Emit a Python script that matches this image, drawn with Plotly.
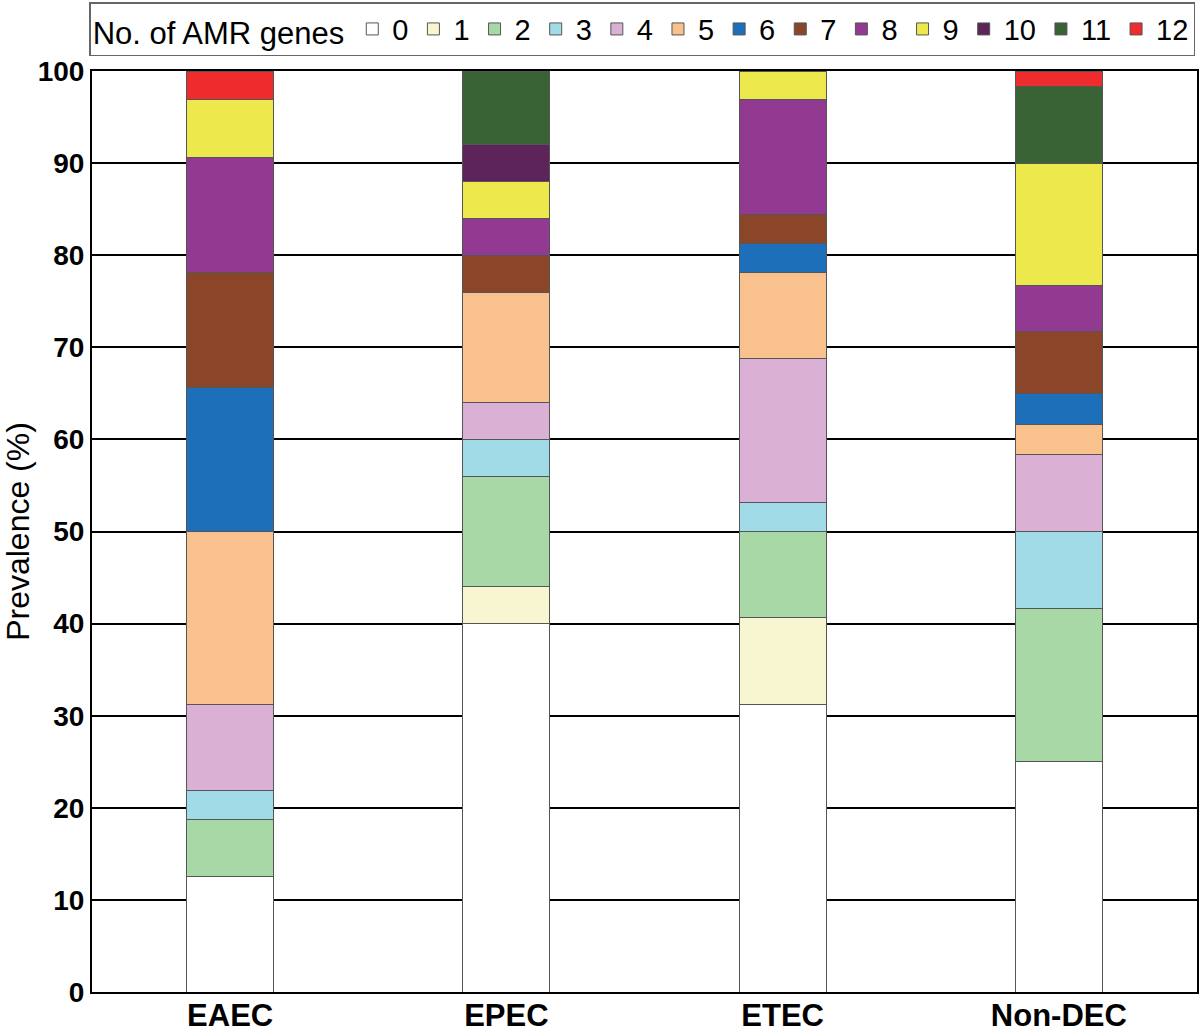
import plotly.graph_objects as go

categories = ["EAEC", "EPEC", "ETEC", "Non-DEC"]
gene_counts = ["0", "1", "2", "3", "4", "5", "6", "7", "8", "9", "10", "11", "12"]

# prevalence (%) per number of AMR genes, per pathotype
eaec = [12.5, 0, 6.25, 3.125, 9.375, 18.75, 15.625, 12.5, 12.5, 6.25, 0, 0, 3.125]
epec = [40, 4, 12, 4, 4, 12, 0, 4, 4, 4, 4, 8, 0]
etec = [31.25, 9.375, 9.375, 3.125, 15.625, 9.375, 3.125, 3.125, 12.5, 3.125, 0, 0, 0]
nondec = [25.0, 0, 16.667, 8.333, 8.333, 3.333, 3.333, 6.667, 5.0, 13.333, 0, 8.333, 1.667]

colors = ["#FFFFFF", "#F7F6D0", "#A8D8A6", "#A2DBE8", "#DAB1D5", "#F9C18E",
          "#1C6FB8", "#8B4529", "#923A92", "#EDE94C", "#5D2459", "#3A6335", "#EE2B2D"]

series = [eaec, epec, etec, nondec]

fig = go.Figure()
for i, g in enumerate(gene_counts):
    vals = [s[i] for s in series]
    fig.add_trace(go.Bar(
        x=categories, y=vals, name=g,
        marker=dict(color=colors[i], line=dict(color="#555555", width=1)),
        width=0.315,
    ))

fig.update_layout(
    barmode="stack",
    width=1200, height=1036,
    margin=dict(l=92, r=3, t=71, b=44, autoexpand=False),
    plot_bgcolor="white", paper_bgcolor="white",
    font=dict(family="Liberation Sans, Arial", color="black"),
    showlegend=True,
    legend=dict(
        orientation="h",
        xref="container", x=0.996, xanchor="right",
        yref="container", y=0.998, yanchor="top",
        title=dict(text="No. of AMR genes", side="left", font=dict(size=31)),
        font=dict(size=29),
        bordercolor="#666666", borderwidth=1.5,
        itemwidth=30,
        tracegroupgap=0,
        traceorder="normal",
    ),
    xaxis=dict(
        showline=True, linecolor="black", linewidth=2, mirror=True,
        ticks="", tickfont=dict(size=31), ticklabelstandoff=-5,
        showgrid=False, automargin=False,
    ),
    yaxis=dict(
        range=[0, 100], dtick=10,
        showline=True, linecolor="black", linewidth=2, mirror=True,
        showgrid=True, gridcolor="black", gridwidth=1.5,
        ticks="", tickfont=dict(size=28),
        title=dict(text="Prevalence (%)", font=dict(size=32), standoff=6),
        zeroline=False, automargin=False,
    ),
)
fig.update_xaxes(tickprefix="<b>", ticksuffix="</b>")
fig.update_yaxes(tickprefix="<b>", ticksuffix="</b>")

fig.write_html(
    "out.html",
    config={"displayModeBar": False},
    post_script="document.body.style.margin='0';document.body.style.overflow='hidden';",
)
